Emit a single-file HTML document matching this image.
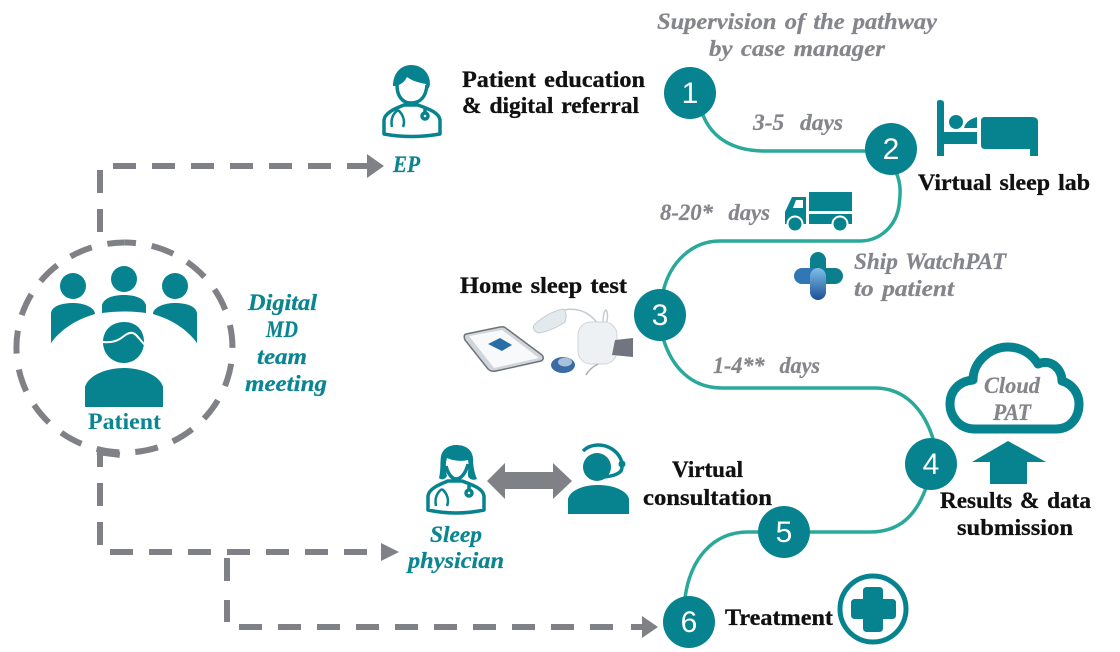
<!DOCTYPE html>
<html><head><meta charset="utf-8"><style>
html,body{margin:0;padding:0;background:#fff;width:1120px;height:652px;overflow:hidden}
svg{display:block}
text{font-family:"Liberation Serif",serif;font-weight:700;word-spacing:2px}
.k{fill:#111;font-size:23px;stroke:#111;stroke-width:.3}
.g{fill:#85868b;font-size:23px;font-style:italic;stroke:#85868b;stroke-width:.25}
.t{fill:#0a8592;font-size:23px;font-style:italic;stroke:#0a8592;stroke-width:.25}
.n{fill:#fff;font-family:"Liberation Sans",sans-serif;font-weight:400;font-size:30px;text-anchor:middle;word-spacing:0}
.d{fill:none;stroke:#808186;stroke-width:6;stroke-dasharray:23 16}
.c{fill:none;stroke:#2aa99a;stroke-width:3.5}
</style></head><body>
<svg width="1120" height="652" viewBox="0 0 1120 652" xmlns="http://www.w3.org/2000/svg">
<defs><linearGradient id="b" x1="0" y1="0" x2="0" y2="1"><stop offset="0" stop-color="#7dc0e8"/><stop offset="1" stop-color="#1c4f96"/></linearGradient></defs>

<!-- dashed connectors -->
<path class="d" d="M100 232V170"/>
<path class="d" d="M113 166H350"/>
<path d="M348 163h19v-9l17 12-17 12v-9h-19z" fill="#808186"/>
<path d="M124.500 243A108 105 0 1 1 124.400 243" class="d" style="stroke-dashoffset:11.500" transform="translate(0 -.5)"/>
<path class="d" d="M100 467V452"/><path class="d" d="M97 452L121 455"/>
<path class="d" d="M100 483V506"/><path class="d" d="M100 522V545"/>
<path class="d" d="M110 552H368"/>
<path d="M381 543l18 9-18 9z" fill="#808186"/>
<path class="d" d="M227 558V583"/><path class="d" d="M227 600V622"/>
<path class="d" d="M239 627H615"/>
<path d="M631 624h11v-8l16 11-16 11v-8h-11z" fill="#808186"/>

<!-- teal path -->
<path class="c" d="M703 115C712 138 733 151 765 151H870"/>
<path class="c" d="M896 172C902 186 900 196 899 206C896 226 880 241 860 241H720C692 241 670 262 663 292"/>
<path class="c" d="M663 338C672 368 692 388 722 388H875C905 388 925 410 934 442"/>
<path class="c" d="M926 488C916 515 900 532 870 532H805"/>
<path class="c" d="M760 532H748C712 532 690 560 685 598"/>

<g fill="#07838f">
<circle cx="690" cy="93" r="26"/><circle cx="891" cy="149" r="26"/><circle cx="660" cy="315" r="26"/>
<circle cx="931" cy="464" r="26"/><circle cx="784" cy="532" r="26"/><circle cx="689" cy="622" r="26"/>
</g>
<text class="n" x="690" y="103">1</text><text class="n" x="891" y="159">2</text><text class="n" x="660" y="325">3</text>
<text class="n" x="931" y="474">4</text><text class="n" x="784" y="542">5</text><text class="n" x="689" y="632">6</text>

<!-- people group -->
<g fill="#07838f">
<circle cx="73" cy="286" r="13"/><circle cx="124" cy="279" r="13"/><circle cx="175" cy="286" r="13"/>
<path d="M51 343V313C52 306 62 303 73 303C85 303 95 308 95 314C78 319 62 328 51 343Z"/>
<path d="M197 343V313C196 306 186 303 175 303C163 303 153 308 153 314C170 319 186 328 197 343Z"/>
<path d="M102 313V305C104 298 113 295 124 295C135 295 144 298 146 305V313C131 311 117 311 102 313Z"/>
<path d="M103 342C103 330 112 322 124 322C136 322 144 330 144 342C144 354 135 363 124 363C112 363 103 354 103 342Z"/>
<path d="M85 407V387C88 376 105 368 124 368C143 368 160 376 163 387V407Z"/>
</g>
<path d="M102 342C112 343 118 341 124 336C129 332 133 332 136 335C139 338 141 341 145 345" fill="none" stroke="#fff" stroke-width="2"/>

<!-- EP doctor -->
<g fill="none" stroke="#07838f" stroke-width="3.500">
<path d="M384 134V120C385 112 397 108 404 105H418C426 108 439 112 440 120V134Q411 139 384 134Z" stroke-linejoin="round"/>
<path d="M397 85C397 97 403 103 411 103C420 103 426 97 427 85"/>
<path d="M398 110C391 115 391 122 392 127M398 110C404 115 405 122 403 127" stroke-width="2.500"/>
<circle cx="425" cy="116" r="3"/><path d="M425 107V113"/>
</g>
<path d="M393 86C393 72 402 65 411 65C422 65 430 73 430 84C429 90 427 90 426 84C420 83 412 81 407 77C404 83 399 86 393 86Z" fill="#07838f"/>

<!-- sleep physician -->
<g fill="none" stroke="#07838f" stroke-width="3.500">
<path d="M428 510V496C429 488 441 484 448 481H462C470 484 483 488 484 496V510Q456 516 428 510Z" stroke-linejoin="round"/>
<path d="M442 489C435 494 435 501 436 506M442 489C448 494 449 501 447 506" stroke-width="2.500"/>
<circle cx="469" cy="493" r="3"/><path d="M469 484V490"/>
<path d="M446 466C448 474 452 479 456 479C461 479 466 473 468 464"/>
</g>
<path d="M439 478C441 470 440 462 441 456C443 448 450 445 456 445C465 445 472 449 473 458C473 465 474 472 477 479C473 481 469 479 468 476C468 470 469 465 468 460C460 462 451 460 447 458C445 464 446 472 447 476C445 480 441 480 439 478Z" fill="#07838f"/>

<!-- double arrow -->
<path d="M487 481L505 463V472H553V463L572 481L553 499V489H505V499Z" fill="#808186"/>

<!-- agent -->
<g fill="#07838f">
<circle cx="597" cy="467" r="14"/>
<path d="M568 514V499C570 490 584 485 598 485C612 485 627 490 629 499V514Z"/>
</g>
<path d="M583 451C590 444 602 443 612 449C621 455 624 464 621 471C617 475 612 476 604 477" fill="none" stroke="#07838f" stroke-width="3.500"/>
<circle cx="622" cy="464" r="3.500" fill="#07838f"/>

<!-- bed -->
<g fill="#07838f">
<path d="M937 102Q937 100 940 100Q944 100 944 103V132H977V144H944V156H937Z"/>
<circle cx="956" cy="122" r="7"/>
<path d="M964 128Q966 120 977 117V128Z"/>
<path d="M981 121Q981 117 985 117H1032Q1038 117 1038 122V156H1030V149H985Q981 149 981 145Z"/>
</g>

<!-- truck -->
<g fill="#07838f">
<rect x="809" y="192" width="43" height="19"/><rect x="809" y="214" width="43" height="10"/>
<path d="M785 224V212L792 197H806V224Z"/>
<circle cx="795" cy="224" r="7.500" stroke="#fff" stroke-width="2"/><circle cx="840" cy="224" r="7.500" stroke="#fff" stroke-width="2"/>
</g>
<path d="M793 208L796 200H803V208Z" fill="#fff"/>

<!-- cross -->
<rect x="810" y="252" width="16" height="34" rx="8" fill="#0c7f8d"/>
<rect x="816" y="268" width="27" height="16" rx="8" fill="#0c7f8d"/>
<rect x="794" y="268" width="28" height="16" rx="8" fill="#2f78b5"/>
<rect x="810" y="268" width="16" height="32" rx="8" fill="url(#b)"/>

<!-- devices -->
<path d="M466 334L500 327Q504 326 507 329L542 355Q545 359 541 361L496 371Q491 372 488 369L465 340Q463 335 466 334Z" fill="#cfd5da" stroke="#6d7379" stroke-width="1.500"/>
<path d="M469 336L502 330L539 358L494 368Z" fill="#f8f9fa"/>
<path d="M488 344L500 338L512 345L502 351Z" fill="#2a6ea8"/>
<path d="M534 325Q548 312 563 309Q568 312 565 322Q550 332 538 333Q532 330 534 325Z" fill="#e3eaee" stroke="#c4cdd2"/>
<path d="M564 310Q585 306 598 324M603 323Q603 312 606 310Q609 314 606 325" fill="none" stroke="#c4cbd0" stroke-width="1.500"/>
<rect x="578" y="322" width="39" height="42" rx="13" fill="#eef1f4" stroke="#cfd5da"/>
<path d="M615 340L633 338L633 357L612 355Z" fill="#70757f"/>
<ellipse cx="563" cy="365" rx="12" ry="8" fill="#3a6ba5"/><ellipse cx="565" cy="362" rx="7" ry="4.500" fill="#a9c1d8"/>
<path d="M586 375Q590 368 598 364" fill="none" stroke="#a8aeb3" stroke-width="1.500"/>

<!-- cloud -->
<path d="M975 429C958 429 950 415 950 404C950 390 960 381 973 380C973 362 990 347 1008 347C1022 347 1033 355 1038 364C1052 358 1062 370 1062 381C1072 384 1079 393 1079 404C1079 418 1070 429 1056 429Z" fill="#fff" stroke="#07838f" stroke-width="9" stroke-linejoin="round"/>
<path d="M1008 441L1046 462H1027V484H990V462H972Z" fill="#07838f"/>

<!-- treatment -->
<circle cx="873" cy="609" r="33" fill="none" stroke="#07838f" stroke-width="5"/>
<path d="M863 591Q863 587 867 587H879Q883 587 883 591V599H892Q896 599 896 603V615Q896 619 892 619H883V628Q883 632 879 632H867Q863 632 863 628V619H855Q851 619 851 615V603Q851 599 855 599H863Z" fill="#07838f"/>

<!-- labels -->
<g>
<text class="k" x="462" y="87" textLength="183" lengthAdjust="spacingAndGlyphs">Patient education</text>
<text class="k" x="462" y="113" textLength="177" lengthAdjust="spacingAndGlyphs">&amp; digital referral</text>
<text class="k" x="918" y="190" textLength="172" lengthAdjust="spacingAndGlyphs">Virtual sleep lab</text>
<text class="k" x="460" y="293" textLength="167" lengthAdjust="spacingAndGlyphs">Home sleep test</text>
<text class="k" x="940" y="508" textLength="151" lengthAdjust="spacingAndGlyphs">Results &amp; data</text>
<text class="k" x="957" y="535" textLength="116" lengthAdjust="spacingAndGlyphs">submission</text>
<text class="k" x="672" y="477" textLength="71" lengthAdjust="spacingAndGlyphs">Virtual</text>
<text class="k" x="643" y="505" textLength="129" lengthAdjust="spacingAndGlyphs">consultation</text>
<text class="k" x="725" y="625" textLength="108" lengthAdjust="spacingAndGlyphs">Treatment</text>

<text class="g" x="657" y="29" textLength="280" lengthAdjust="spacingAndGlyphs">Supervision of the pathway</text>
<text class="g" x="709" y="56" textLength="176" lengthAdjust="spacingAndGlyphs">by case manager</text>
<text class="g" x="753" y="130" textLength="90" lengthAdjust="spacingAndGlyphs" xml:space="preserve">3-5  days</text>
<text class="g" x="660" y="220" textLength="110" lengthAdjust="spacingAndGlyphs" xml:space="preserve">8-20*  days</text>
<text class="g" x="854" y="269" textLength="152" lengthAdjust="spacingAndGlyphs">Ship WatchPAT</text>
<text class="g" x="854" y="296" textLength="100" lengthAdjust="spacingAndGlyphs">to patient</text>
<text class="g" x="713" y="373" textLength="107" lengthAdjust="spacingAndGlyphs" xml:space="preserve">1-4**  days</text>
<text class="g" x="984" y="393" textLength="56" lengthAdjust="spacingAndGlyphs">Cloud</text>
<text class="g" x="993" y="420" textLength="38" lengthAdjust="spacingAndGlyphs">PAT</text>

<text class="t" x="393" y="172" textLength="27" lengthAdjust="spacingAndGlyphs">EP</text>
<text class="t" x="248" y="310" textLength="69" lengthAdjust="spacingAndGlyphs">Digital</text>
<text class="t" x="266" y="337" textLength="32" lengthAdjust="spacingAndGlyphs">MD</text>
<text class="t" x="257" y="364" textLength="50" lengthAdjust="spacingAndGlyphs">team</text>
<text class="t" x="245" y="391" textLength="82" lengthAdjust="spacingAndGlyphs">meeting</text>
<text class="t" x="430" y="542" textLength="52" lengthAdjust="spacingAndGlyphs">Sleep</text>
<text class="t" x="408" y="568" textLength="96" lengthAdjust="spacingAndGlyphs">physician</text>
<text x="88" y="429" textLength="73" lengthAdjust="spacingAndGlyphs" style="fill:#0a8592;font-size:23px">Patient</text>
</g>
</svg>
</body></html>
